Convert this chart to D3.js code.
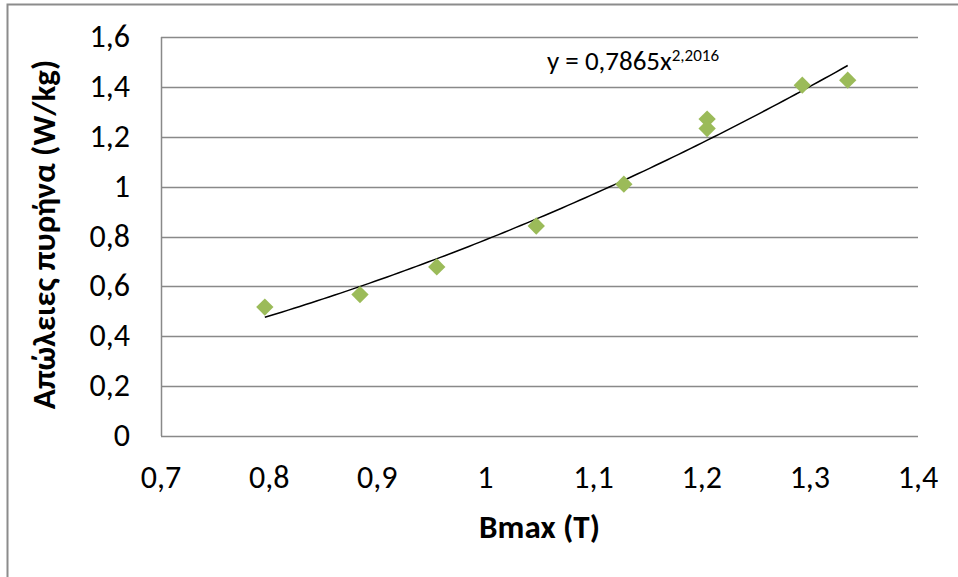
<!DOCTYPE html>
<html>
<head>
<meta charset="utf-8">
<script src="https://cdn.jsdelivr.net/npm/d3@7"></script>
<style>
  body { margin: 0; background: #fff; }
  text { font-family: Carlito, "Open Sans", sans-serif; fill: #000; }
</style>
</head>
<body>
<svg class="chart" width="958" height="577"></svg>
<script>
const bmax = [0.796, 0.884, 0.955, 1.047, 1.128, 1.205, 1.205, 1.293, 1.335];
const losses = [0.517, 0.567, 0.678, 0.842, 1.010, 1.271, 1.233, 1.407, 1.427];
const xTicks = [0.7, 0.8, 0.9, 1, 1.1, 1.2, 1.3, 1.4];
const yTicks = [0, 0.2, 0.4, 0.6, 0.8, 1, 1.2, 1.4, 1.6];
const fitCoef = 0.7865;
const fitExp = 2.2016;

const width = 958;
const height = 577;
const margin = {left: 161, right: 40, top: 37, bottom: 141};

const svg = d3.select('svg.chart');
const fmt = v => String(+v.toFixed(1)).replace('.', ',');

// outer chart frame (only top and left edges fall inside the picture)
svg.append('path')
  .attr('d', `M7.5,${height} V4.5 H${width}`)
  .attr('fill', 'none')
  .attr('stroke', '#8c8c8c')
  .attr('stroke-width', 2);

const x = d3.scaleLinear()
            .domain([0.7, 1.4])
            .range([margin.left, width - margin.right]);
const y = d3.scaleLinear()
            .domain([0, 1.6])
            .range([height - margin.bottom, margin.top]);

const g = svg.append('g');

// gridlines
g.selectAll('line.grid')
  .data(yTicks)
  .enter()
  .append('line')
  .attr('class', 'grid')
  .attr('x1', x(0.7))
  .attr('x2', x(1.4))
  .attr('y1', d => Math.round(y(d)) + 0.5)
  .attr('y2', d => Math.round(y(d)) + 0.5)
  .attr('stroke', '#898989')
  .attr('stroke-width', 1.5);

// left axis line
g.append('line')
  .attr('x1', x(0.7) + 0.5).attr('x2', x(0.7) + 0.5)
  .attr('y1', y(1.6)).attr('y2', y(0))
  .attr('stroke', '#898989')
  .attr('stroke-width', 1.5);

// tick labels
g.selectAll('text.ytick')
  .data(yTicks)
  .enter()
  .append('text')
  .attr('class', 'ytick')
  .attr('x', 130)
  .attr('y', d => y(d) + 10)
  .style('text-anchor', 'end')
  .style('font-size', '32px')
  .text(fmt);

g.selectAll('text.xtick')
  .data(xTicks)
  .enter()
  .append('text')
  .attr('class', 'xtick')
  .attr('x', d => x(d))
  .attr('y', 488)
  .style('text-anchor', 'middle')
  .style('font-size', '32px')
  .text(fmt);

// axis titles
svg.append('text')
  .attr('x', (x(0.7) + x(1.4)) / 2)
  .attr('y', 538)
  .style('text-anchor', 'middle')
  .style('font-size', '33px')
  .style('font-weight', 'bold')
  .text('Bmax (T)');

svg.append('text')
  .attr('transform', `translate(55, ${(y(0) + y(1.6)) / 2 - 2}) rotate(-90)`)
  .style('text-anchor', 'middle')
  .style('font-size', '33px')
  .style('font-weight', 'bold')
  .text('Απώλειες πυρήνα (W/kg)');

// power trendline
const [xMin, xMax] = d3.extent(bmax);
const fitPts = d3.range(0, 101).map(i => {
  const b = xMin + (xMax - xMin) * i / 100;
  return [b, fitCoef * Math.pow(b, fitExp)];
});
g.append('path')
  .datum(fitPts)
  .attr('fill', 'none')
  .attr('stroke', '#000')
  .attr('stroke-width', 1.5)
  .attr('d', d3.line().x(d => x(d[0])).y(d => y(d[1])));

// markers
const diamond = d3.symbol().type(d3.symbolSquare).size(150);
g.selectAll('path.pt')
  .data(bmax.map((b, i) => [b, losses[i]]))
  .enter()
  .append('path')
  .attr('class', 'pt')
  .attr('d', diamond)
  .attr('transform', d => `translate(${x(d[0])}, ${y(d[1])}) rotate(45)`)
  .attr('fill', '#9bbb59');

// equation label
const eq = svg.append('text')
  .attr('x', 547)
  .attr('y', 70)
  .style('font-size', '27px');
eq.append('tspan').text(`y = ${String(fitCoef).replace('.', ',')}x`);
eq.append('tspan')
  .attr('dy', -9)
  .style('font-size', '17px')
  .text(String(fitExp).replace('.', ','));
</script>
</body>
</html>
